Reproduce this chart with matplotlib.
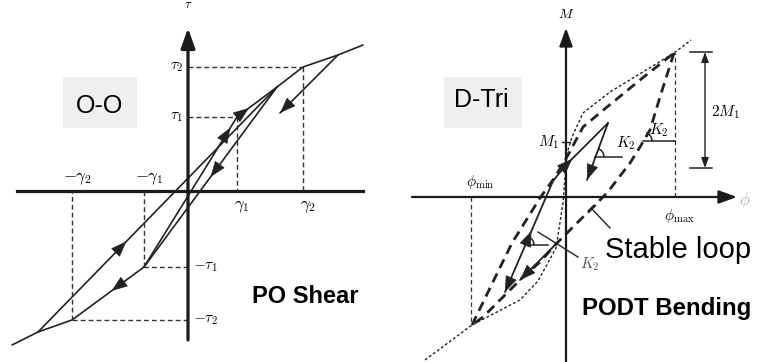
import numpy as np
import matplotlib.pyplot as plt
from matplotlib.patches import Rectangle, Arc

plt.rcParams['mathtext.fontset'] = 'cm'
plt.rcParams['font.family'] = ['Liberation Sans', 'DejaVu Sans']

# ---- left panel: PO shear (units = px, origin at the axis crossing) ----
gamma_ticks = [-116, -44, 49, 115]
gamma_labels = [r'$-\gamma_2$', r'$-\gamma_1$', r'$\gamma_1$', r'$\gamma_2$']
tau_ticks = [-129, -76, 74, 124]
tau_labels = [r'$-\tau_2$', r'$-\tau_1$', r'$\tau_1$', r'$\tau_2$']

po_backbone_pos = [(49, 74), (89, 104), (115, 124), (150, 136), (175, 146)]
po_backbone_neg = [(-44, -76), (-116, -129), (-150, -141), (-176, -154)]
po_reload_small = [(-44, -76), (49, 74)]
po_unload_small = [(89, 104), (-44, -76)]
po_reload_big = [(-150, -141), (89, 104)]
po_unload_big = [(150, 136), (92, 78)]

# ---- right panel: PODT bending ----
phi_min, phi_max = -95, 109
m1 = 55
dtri_backbone = [(-141, -163), (-94, -128), (-46, -103), (-28, -84), (-10, -51), (-3, -6),
                 (1, 44), (6, 60), (17, 84), (44, 105), (108, 144), (125, 157)]
dtri_loop_up = [(-94, -128), (-76, -91), (-54, -46), (-26, -1), (-11, 20), (2, 42),
                (17, 70), (41, 90), (74, 117), (108, 144)]
dtri_loop_down = [(108, 144), (94, 100), (84, 67), (74, 50), (64, 34), (41, 4), (24, -13),
                  (7, -30), (-10, -47), (-26, -65), (-43, -80), (-63, -100), (-83, -120), (-94, -128)]
dtri_path = [(42, 74), (0, 32), (-13, 16), (-35, -35), (-61, -95)]
dtri_unload = [(42, 74), (21, 17)]
dtri_loop_arrow = [(-10, -47), (-46, -83)]

INK = '#222222'


def poly(ax, pts, **kw):
    pts = np.array(pts, dtype=float)
    ax.plot(pts[:, 0], pts[:, 1], color=INK, solid_capstyle='round', **kw)


def head(ax, p, q, frac=1.0, ms=13, hl=0.8, hw=0.3):
    p, q = np.array(p, float), np.array(q, float)
    d = (q - p) / np.hypot(*(q - p))
    tip = p + (q - p) * frac
    ax.annotate('', xy=tip, xytext=tip - d * 3,
                arrowprops=dict(arrowstyle=f'-|>,head_length={hl},head_width={hw}',
                                mutation_scale=ms, lw=0.5, color=INK,
                                shrinkA=0, shrinkB=0))


def axis_arrow(ax, start, tip, lw, hl, hw):
    ax.annotate('', xy=tip, xytext=start,
                arrowprops=dict(arrowstyle=f'-|>,head_length={hl},head_width={hw}',
                                mutation_scale=10, lw=lw, color='#1a1a1a',
                                shrinkA=0, shrinkB=0))


fig = plt.figure(figsize=(7.58, 3.62), dpi=100)
axL = fig.add_axes([0, 0, 0.5, 1])
axR = fig.add_axes([0.5, 0, 0.5, 1])
axL.set_xlim(-188, 191)
axL.set_ylim(-171, 191)
axR.set_xlim(-187, 192)
axR.set_ylim(-165, 197)
for ax in (axL, axR):
    ax.axis('off')

# ================= left =================
ax = axL
ax.plot([-171, 175], [0, 0], color='#1a1a1a', lw=2.3)
axis_arrow(ax, (0, -149), (0, 163), 2.3, 1.2, 0.42)
ax.text(0, 180, r'$\tau$', ha='center', va='bottom', fontsize=9)

dash = dict(color='#333333', lw=1.0, linestyle=(0, (3.5, 2.2)))
for g, t in zip(gamma_ticks, tau_ticks):
    ax.plot([0, g], [t, t], **dash)
    ax.plot([g, g], [t, 0], **dash)

for t, lab in zip(tau_ticks, tau_labels):
    if t > 0:
        ax.text(-5, t, lab, ha='right', va='center', fontsize=11)
    else:
        ax.text(5, t, lab, ha='left', va='center', fontsize=11)
for g, lab in zip(gamma_ticks, gamma_labels):
    if g < 0:
        ax.text(g + 5, 4, lab, ha='center', va='bottom', fontsize=12)
    else:
        ax.text(g + 5, -7, lab, ha='center', va='top', fontsize=12)

lw_c = 1.2
poly(ax, po_backbone_pos, lw=lw_c)
poly(ax, po_backbone_neg, lw=lw_c)
poly(ax, po_reload_small, lw=lw_c)
poly(ax, po_unload_small, lw=lw_c)
poly(ax, po_reload_big, lw=lw_c)
poly(ax, po_unload_big, lw=lw_c)
head(ax, po_unload_big[0], po_unload_big[1], 1.0)
head(ax, po_backbone_neg[0], po_backbone_neg[1], 0.45)
head(ax, po_reload_big[0], po_reload_big[1], 0.37)
head(ax, po_unload_small[0], po_unload_small[1], 0.5)
head(ax, po_reload_small[0], po_reload_small[1], 0.93)
head(ax, po_backbone_pos[0], po_backbone_pos[1], 0.3)

ax.add_patch(Rectangle((-125, 63), 74, 51, facecolor='#efefef', edgecolor='none'))
ax.text(-88, 78, 'O-O', ha='center', va='baseline', fontsize=18)
ax.text(64, -112, 'PO Shear', ha='left', va='baseline', fontsize=17, fontweight='bold')

# ================= right =================
ax = axR
axis_arrow(ax, (-154, 0), (171, 0), 1.6, 1.1, 0.4)
axis_arrow(ax, (0, -165), (0, 169), 1.6, 1.1, 0.4)
ax.text(0, 176, r'$M$', ha='center', va='bottom', fontsize=10)
ax.text(179, -3, r'$\phi$', ha='center', va='center', fontsize=12, color='#b0b0b0')

vdash = dict(color='#333333', lw=0.9, linestyle=(0, (3.5, 2.5)))
ax.plot([phi_max, phi_max], [0, 144], **vdash)
ax.plot([phi_min, phi_min], [0, -128], **vdash)
ax.text(phi_min + 9, 6, r'$\phi_{\min}$', ha='center', va='bottom', fontsize=11)
ax.text(phi_max + 4, -10, r'$\phi_{\max}$', ha='center', va='top', fontsize=11)
ax.plot([-4, 4], [m1, m1], color=INK, lw=1.0)
ax.text(-7, m1, r'$M_1$', ha='right', va='center', fontsize=11)

poly(ax, dtri_backbone, lw=1.0, linestyle=(0, (2.0, 1.6)))
poly(ax, dtri_loop_up, lw=2.0, linestyle=(0, (3.5, 2.2)))
poly(ax, dtri_loop_down, lw=2.0, linestyle=(0, (3.5, 2.2)))

poly(ax, dtri_path, lw=1.3)
head(ax, dtri_path[-2], dtri_path[-1], 1.0)
head(ax, dtri_path[1], dtri_path[0], 0.15)
head(ax, dtri_path[3], dtri_path[2], 0.02)
poly(ax, dtri_unload, lw=1.3)
head(ax, dtri_unload[0], dtri_unload[1], 1.0)
poly(ax, dtri_loop_arrow, lw=1.3)
head(ax, dtri_loop_arrow[0], dtri_loop_arrow[1], 1.0)

# K2 angle markers
for cx, cy, x2, ang in [(29, 40, 56, 69), (77, 56, 109, 69), (-41, -48, -18, 67)]:
    ax.plot([cx, x2], [cy, cy], color=INK, lw=1.1)
    ax.add_patch(Arc((cx, cy), 18, 18, theta1=0, theta2=ang, color=INK, lw=1.1))
ax.text(50, 54, r'$K_2$', ha='left', va='center', fontsize=11)
ax.text(83, 67, r'$K_2$', ha='left', va='center', fontsize=11)
ax.plot([-28, 12], [-35, -60], color=INK, lw=1.0)
ax.text(24, -67, r'$K_2$', ha='center', va='center', fontsize=11, color='#555555')

# stable loop leader
ax.plot([26, 44], [-12, -31], color=INK, lw=1.0)
ax.plot([22.4, 29.6], [-15.5, -8.5], color=INK, lw=1.0)

# 2M1 dimension
ax.plot([124, 146], [145, 145], color=INK, lw=1.1)
ax.plot([124, 146], [29, 29], color=INK, lw=1.1)
ax.annotate('', xy=(139, 145), xytext=(139, 29),
            arrowprops=dict(arrowstyle='<|-|>,head_length=0.6,head_width=0.22',
                            mutation_scale=10, lw=1.0, color=INK, shrinkA=0, shrinkB=0))
ax.text(145, 85, r'$2M_1$', ha='left', va='center', fontsize=11)

ax.add_patch(Rectangle((-122, 69), 78, 51, facecolor='#efefef', edgecolor='none'))
ax.text(-85, 90, 'D-Tri', ha='center', va='baseline', fontsize=18)
ax.text(39, -61, 'Stable loop', ha='left', va='baseline', fontsize=21)
ax.text(16, -118, 'PODT Bending', ha='left', va='baseline', fontsize=17.3, fontweight='bold')

fig.savefig('out.png', dpi=100)
